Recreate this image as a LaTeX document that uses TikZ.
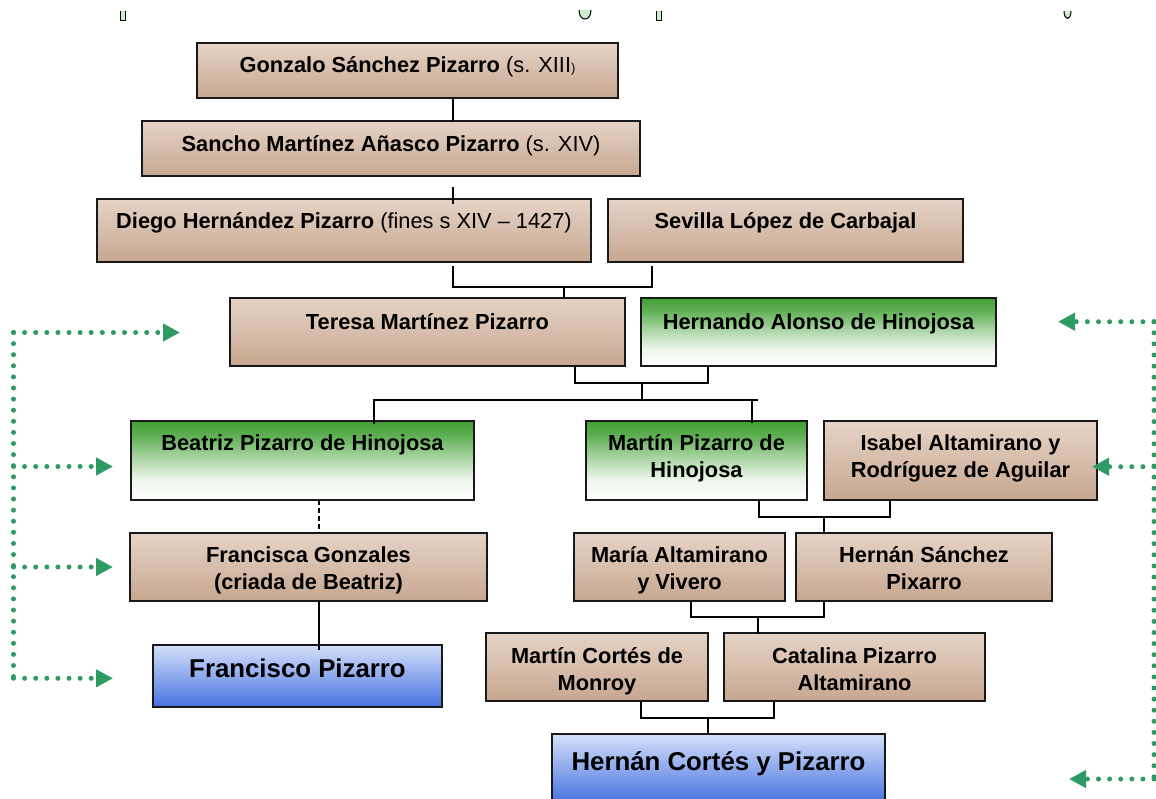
\documentclass[tikz,border=0pt]{standalone}
\usepackage{fontspec}
\setmainfont{Liberation Sans}
\usetikzlibrary{arrows.meta,calc}
\definecolor{brT}{RGB}{230,211,198}
\definecolor{brB}{RGB}{199,167,144}
\definecolor{grT}{RGB}{66,160,52}
\colorlet{grA}{grT!85!white}
\colorlet{grB}{grT!45!white}
\colorlet{grC}{grT!10!white}
\definecolor{blT}{RGB}{212,224,250}
\definecolor{blB}{RGB}{70,114,224}
\definecolor{dotg}{RGB}{46,154,100}
\definecolor{edgec}{RGB}{25,25,25}
\definecolor{markg}{RGB}{205,235,205}
\pgfdeclareverticalshading{brsh}{100bp}{color(0bp)=(brB); color(25bp)=(brB); color(75bp)=(brT); color(100bp)=(brT)}
\pgfdeclareverticalshading{grsh}{100bp}{color(0bp)=(white); color(25bp)=(white); color(38bp)=(grC); color(52bp)=(grB); color(66bp)=(grA); color(75bp)=(grT); color(100bp)=(grT)}
\pgfdeclareverticalshading{blsh}{100bp}{color(0bp)=(blB); color(25bp)=(blB); color(75bp)=(blT); color(100bp)=(blT)}
\newcommand\Ls{\rule[-0.244em]{0pt}{0.96em}}
\newcommand\famBox[9]{%
  \node[#2, minimum width={#5-#3}, minimum height={#6-#4}, anchor=north west] (#1) at (#3,#4) {};
  \node[#9] (#1-t) at ({(#3+#5)/2},{#7+2}) {#8};}
\begin{document}
\begin{tikzpicture}[x=1pt,y=-1pt,
  box/.style={draw=edgec, line width=1.4pt, rectangle, inner sep=0pt, outer sep=0pt},
  brownbox/.style={box, shading=brsh},
  greenbox/.style={box, shading=grsh},
  bluebox/.style={box, shading=blsh},
  txt/.style={align=center, inner sep=0pt, font=\fontsize{21.8}{27}\selectfont\bfseries,
    execute at begin node=\Ls, execute at end node=\Ls},
  bigtxt/.style={txt, font=\fontsize{25.8}{30}\selectfont\bfseries},
  con/.style={draw=black, line width=1.2pt},
  dots/.style={draw=dotg, line width=5pt, line cap=round, dash pattern=on 0pt off 11.1pt},
  arr/.style={-{Triangle[length=17pt,width=17pt,fill=dotg]}},
  strayMark/.style={draw=black, line width=1pt, fill=markg}]
\useasboundingbox (0,0) rectangle (1156,798);

% stray marks at top
\draw[strayMark] (120,11) -- (120,20) -- (125,20) -- (125,11);
\draw[strayMark] (579,10) .. controls (579,22) and (591,22) .. (591,10);
\draw[strayMark] (656,11) -- (656,20) -- (661,20) -- (661,11);
\draw[strayMark] (1064,11) .. controls (1064,21) and (1071,21) .. (1071,11);

% boxes
\famBox{gonz}{brownbox}{197}{43}{618}{98}{65.5}{Gonzalo Sánchez Pizarro {\mdseries (s. XIII{\fontsize{13}{13}\selectfont )}}}{txt}
\famBox{sancho}{brownbox}{142}{121}{640}{176}{144}{Sancho Martínez Añasco Pizarro {\mdseries (s. XIV)}}{txt}
\famBox{diego}{brownbox}{97}{199}{591}{262}{221}{Diego Hernández Pizarro {\mdseries (fines s XIV – 1427)}}{txt}
\famBox{sevilla}{brownbox}{608}{199}{963}{262}{221}{Sevilla López de Carbajal}{txt}
\famBox{teresa}{brownbox}{230}{298}{625}{366}{322}{Teresa Martínez Pizarro}{txt}
\famBox{hernando}{greenbox}{641}{298}{996}{366}{322}{Hernando Alonso de Hinojosa}{txt}
\famBox{beatriz}{greenbox}{131}{421}{474}{500}{443}{Beatriz Pizarro de Hinojosa}{txt}
\famBox{martin}{greenbox}{586}{421}{807}{500}{457}{Martín Pizarro de\\Hinojosa}{txt}
\famBox{isabel}{brownbox}{824}{421}{1097}{500}{457}{Isabel Altamirano y\\Rodríguez de Aguilar}{txt}
\famBox{francisca}{brownbox}{130}{533}{487}{601}{569}{Francisca Gonzales\\(criada de Beatriz)}{txt}
\famBox{maria}{brownbox}{574}{533}{785}{601}{569}{María Altamirano\\y Vivero}{txt}
\famBox{hsanchez}{brownbox}{796}{533}{1052}{601}{569}{Hernán Sánchez\\Pixarro}{txt}
\famBox{francisco}{bluebox}{153}{645}{442}{707}{669}{Francisco Pizarro}{bigtxt}
\famBox{mcortes}{brownbox}{486}{633}{708}{701}{670}{Martín Cortés de\\Monroy}{txt}
\famBox{catalina}{brownbox}{724}{633}{985}{701}{670}{Catalina Pizarro\\Altamirano}{txt}
\famBox{hcortes}{bluebox}{552}{734}{885}{803}{762}{Hernán Cortés y Pizarro}{bigtxt}

% connector reference points
\coordinate (xa) at (453,0);
\coordinate (xb) at (652,0);
\coordinate (j1) at (564,287);
\coordinate (xc) at (575,0);
\coordinate (xd) at (708,0);
\coordinate (j2) at (642,383);
\coordinate (j3) at (642,400);
\coordinate (xe) at (374,0);
\coordinate (xf) at (752,0);
\coordinate (xg) at (758,0);
\coordinate (xh) at (319,0);
\coordinate (xi) at (759,0);
\coordinate (xj) at (890,0);
\coordinate (j4) at (824,517);
\coordinate (xk) at (691,0);
\coordinate (xl) at (824,0);
\coordinate (j5) at (758,617);
\coordinate (xm) at (641,0);
\coordinate (xn) at (774,0);
\coordinate (j6) at (708,718);

% connectors
\draw[con] (gonz.south -| xa) -- (sancho.north -| xa);
\draw[con] ($(sancho.south -| xa)+(0,11)$) -- ($(diego.north -| xa)+(0,5)$);
\draw[con] ($(diego.south -| xa)+(0,4)$) -- (xa |- j1) -- (xb |- j1) -- ($(sevilla.south -| xb)+(0,4)$);
\draw[con] (j1) -- (teresa.north -| j1);
\draw[con] (teresa.south -| xc) -- (xc |- j2) -- (xd |- j2) -- (hernando.south -| xd);
\draw[con] (j2) -- (j3);
\draw[con] ($(beatriz.north -| xe)+(0,3)$) -- (xe |- j3) -- (xg |- j3);
\draw[con] (xf |- j3) -- ($(martin.north -| xf)+(0,2)$);
\draw[con, dash pattern=on 5pt off 3pt] (beatriz.south -| xh) -- (francisca.north -| xh);
\draw[con] (francisca.south -| xh) -- ($(francisco.north -| xh)+(0,5)$);
\draw[con] (martin.south -| xi) -- (xi |- j4) -- (xj |- j4) -- (isabel.south -| xj);
\draw[con] (j4) -- (hsanchez.north -| j4);
\draw[con] (maria.south -| xk) -- (xk |- j5) -- (xl |- j5) -- (hsanchez.south -| xl);
\draw[con] (j5) -- (catalina.north -| j5);
\draw[con] (mcortes.south -| xm) -- (xm |- j6) -- (xn |- j6) -- (catalina.south -| xn);
\draw[con] (j6) -- (hcortes.north -| j6);

% dotted green arrows, left
\coordinate (L1) at (13.5,332.5);
\coordinate (L2) at (13.5,466.5);
\coordinate (L3) at (13.5,567);
\coordinate (L4) at (13.5,678.3);
\coordinate (tL1) at (180,332.5);
\coordinate (tL2) at (113,466.5);
\coordinate (tL3) at (113,567);
\coordinate (tL4) at (113,678.3);
\draw[dots] (L1) -- (L4);
\draw[dots,arr] (L1) -- (tL1);
\draw[dots,arr] (L2) -- (tL2);
\draw[dots,arr] (L3) -- (tL3);
\draw[dots,arr] (L4) -- (tL4);

% dotted green arrows, right
\coordinate (R1) at (1154,321.7);
\coordinate (R2) at (1154,466.7);
\coordinate (R3) at (1154,779);
\coordinate (tR1) at (1058,321.7);
\coordinate (tR2) at (1092,466.7);
\coordinate (tR3) at (1069,779);
\draw[dots] (R1) -- (R3);
\draw[dots,arr] (R1) -- (tR1);
\draw[dots,arr] (R2) -- (tR2);
\draw[dots,arr] (R3) -- (tR3);
\end{tikzpicture}
\end{document}
